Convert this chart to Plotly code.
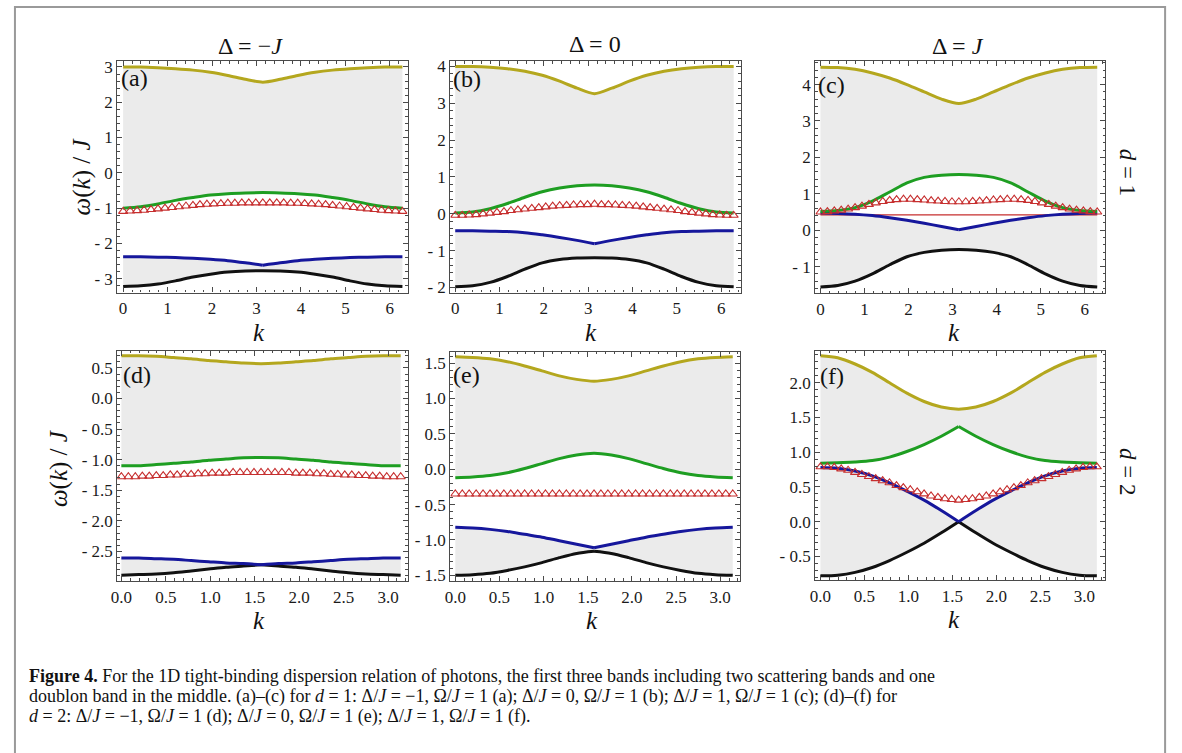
import plotly.graph_objects as go

W, H = 1182, 753

# ---- wave-number grids ----
k_band_d1 = [0.0, 0.393, 0.785, 1.178, 1.571, 1.963, 2.356, 2.749, 3.142,
             3.534, 3.927, 4.320, 4.712, 5.105, 5.498, 5.890, 6.283]
k_band_d2 = [0.0, 0.196, 0.393, 0.589, 0.785, 0.982, 1.178, 1.374, 1.571,
             1.767, 1.963, 2.160, 2.356, 2.553, 2.749, 2.945, 3.142]
k_doublon_d1 = [0.0, 0.157, 0.314, 0.471, 0.628, 0.785, 0.942, 1.100, 1.257, 1.414,
                1.571, 1.728, 1.885, 2.042, 2.199, 2.356, 2.513, 2.670, 2.827, 2.985,
                3.142, 3.299, 3.456, 3.613, 3.770, 3.927, 4.084, 4.241, 4.398, 4.555,
                4.712, 4.869, 5.027, 5.184, 5.341, 5.498, 5.655, 5.812, 5.969, 6.126, 6.283]
k_doublon_d2 = [0.0, 0.079, 0.157, 0.236, 0.314, 0.393, 0.471, 0.550, 0.628, 0.707,
                0.785, 0.864, 0.942, 1.021, 1.100, 1.178, 1.257, 1.335, 1.414, 1.492,
                1.571, 1.649, 1.728, 1.806, 1.885, 1.963, 2.042, 2.121, 2.199, 2.278,
                2.356, 2.435, 2.513, 2.592, 2.670, 2.749, 2.827, 2.906, 2.985, 3.063, 3.142]

# ---- (a) d = 1, Delta = -J ----
a_yellow = [3.00, 3.00, 2.98, 2.95, 2.91, 2.85, 2.76, 2.65, 2.57, 2.65, 2.76, 2.85, 2.91, 2.95, 2.98, 3.00, 3.00]
a_green = [-1.00, -0.96, -0.88, -0.78, -0.70, -0.63, -0.59, -0.57, -0.56, -0.57, -0.59, -0.63, -0.70, -0.78, -0.88, -0.96, -1.00]
a_blue = [-2.38, -2.38, -2.39, -2.40, -2.42, -2.45, -2.49, -2.55, -2.62, -2.55, -2.49, -2.45, -2.42, -2.40, -2.39, -2.38, -2.38]
a_black = [-3.22, -3.20, -3.15, -3.06, -2.95, -2.87, -2.81, -2.78, -2.77, -2.78, -2.81, -2.87, -2.95, -3.06, -3.15, -3.20, -3.22]
a_red = [-1.09, -1.08, -1.07, -1.06, -1.04, -1.02, -1.00, -0.98, -0.96, -0.94, -0.92, -0.90, -0.89, -0.88, -0.87,
         -0.86, -0.86, -0.85, -0.85, -0.85, -0.85, -0.85, -0.85, -0.85, -0.86, -0.86, -0.87, -0.88, -0.89, -0.90,
         -0.92, -0.94, -0.96, -0.98, -1.00, -1.02, -1.04, -1.06, -1.07, -1.08, -1.09]

# ---- (b) d = 1, Delta = 0 ----
b_yellow = [4.00, 4.00, 3.98, 3.94, 3.87, 3.76, 3.60, 3.41, 3.26, 3.41, 3.60, 3.76, 3.87, 3.94, 3.98, 4.00, 4.00]
b_green = [0.02, 0.05, 0.14, 0.28, 0.45, 0.60, 0.70, 0.76, 0.78, 0.76, 0.70, 0.60, 0.45, 0.28, 0.14, 0.05, 0.02]
b_blue = [-0.46, -0.46, -0.47, -0.48, -0.51, -0.57, -0.64, -0.72, -0.81, -0.72, -0.64, -0.57, -0.51, -0.48, -0.47, -0.46, -0.46]
b_black = [-1.98, -1.95, -1.86, -1.70, -1.50, -1.33, -1.24, -1.20, -1.19, -1.20, -1.24, -1.33, -1.50, -1.70, -1.86, -1.95, -1.98]
b_red = [-0.04, -0.04, -0.03, -0.02, 0.00, 0.02, 0.04, 0.06, 0.09, 0.11, 0.13, 0.15, 0.17, 0.19, 0.21,
         0.22, 0.23, 0.24, 0.25, 0.25, 0.26, 0.25, 0.25, 0.24, 0.23, 0.22, 0.21, 0.19, 0.17, 0.15,
         0.13, 0.11, 0.09, 0.06, 0.04, 0.02, 0.00, -0.02, -0.03, -0.04, -0.04]

# ---- (c) d = 1, Delta = J ----
c_yellow = [4.48, 4.47, 4.42, 4.32, 4.18, 4.00, 3.80, 3.60, 3.48, 3.60, 3.80, 4.00, 4.18, 4.32, 4.42, 4.47, 4.48]
c_green = [0.51, 0.54, 0.62, 0.80, 1.05, 1.30, 1.45, 1.51, 1.53, 1.51, 1.45, 1.30, 1.05, 0.80, 0.62, 0.54, 0.51]
c_blue = [0.47, 0.46, 0.44, 0.40, 0.34, 0.27, 0.19, 0.10, 0.01, 0.10, 0.19, 0.27, 0.34, 0.40, 0.44, 0.46, 0.47]
c_black = [-1.56, -1.52, -1.40, -1.20, -0.95, -0.73, -0.61, -0.55, -0.53, -0.55, -0.61, -0.73, -0.95, -1.20, -1.40, -1.52, -1.56]
c_red = [0.50, 0.51, 0.53, 0.55, 0.58, 0.62, 0.66, 0.71, 0.75, 0.79, 0.82, 0.84, 0.85, 0.85, 0.84,
         0.83, 0.81, 0.80, 0.79, 0.78, 0.78, 0.78, 0.79, 0.80, 0.81, 0.83, 0.84, 0.85, 0.85, 0.84,
         0.82, 0.79, 0.75, 0.71, 0.66, 0.62, 0.58, 0.55, 0.53, 0.51, 0.50]
c_red_edge_k = [0.0, 6.283]
c_red_edge = [0.42, 0.42]

# ---- (d) d = 2, Delta = -J ----
d_yellow = [0.70, 0.70, 0.69, 0.67, 0.65, 0.62, 0.60, 0.58, 0.57, 0.58, 0.60, 0.62, 0.65, 0.67, 0.69, 0.70, 0.70]
d_green = [-1.10, -1.10, -1.08, -1.06, -1.04, -1.01, -0.99, -0.97, -0.965, -0.97, -0.99, -1.01, -1.04, -1.06, -1.08, -1.10, -1.10]
d_blue = [-2.61, -2.61, -2.62, -2.63, -2.65, -2.67, -2.69, -2.70, -2.72, -2.70, -2.69, -2.67, -2.65, -2.63, -2.62, -2.61, -2.61]
d_black = [-2.89, -2.88, -2.87, -2.85, -2.82, -2.79, -2.76, -2.74, -2.72, -2.74, -2.76, -2.79, -2.82, -2.85, -2.87, -2.88, -2.89]
d_red = [-1.28, -1.28, -1.28, -1.27, -1.27, -1.26, -1.26, -1.25, -1.25, -1.24, -1.24, -1.23, -1.23, -1.22, -1.22,
         -1.22, -1.21, -1.21, -1.21, -1.21, -1.21, -1.21, -1.21, -1.21, -1.21, -1.22, -1.22, -1.22, -1.23, -1.23,
         -1.24, -1.24, -1.25, -1.25, -1.26, -1.26, -1.27, -1.27, -1.28, -1.28, -1.28]

# ---- (e) d = 2, Delta = 0 ----
e_yellow = [1.59, 1.58, 1.56, 1.52, 1.46, 1.39, 1.32, 1.27, 1.245, 1.27, 1.32, 1.39, 1.46, 1.52, 1.56, 1.58, 1.59]
e_green = [-0.12, -0.11, -0.09, -0.05, 0.01, 0.08, 0.15, 0.20, 0.225, 0.20, 0.15, 0.08, 0.01, -0.05, -0.09, -0.11, -0.12]
e_blue = [-0.82, -0.83, -0.85, -0.88, -0.92, -0.96, -1.01, -1.06, -1.11, -1.06, -1.01, -0.96, -0.92, -0.88, -0.85, -0.83, -0.82]
e_black = [-1.50, -1.49, -1.47, -1.43, -1.38, -1.32, -1.25, -1.19, -1.16, -1.19, -1.25, -1.32, -1.38, -1.43, -1.47, -1.49, -1.50]
e_red = [-0.35] * 41

# ---- (f) d = 2, Delta = J ----
f_yellow = [2.39, 2.36, 2.27, 2.15, 2.00, 1.85, 1.73, 1.65, 1.62, 1.65, 1.73, 1.85, 2.00, 2.15, 2.27, 2.36, 2.39]
f_green = [0.84, 0.85, 0.86, 0.88, 0.93, 1.01, 1.11, 1.23, 1.37, 1.23, 1.11, 1.01, 0.93, 0.88, 0.86, 0.85, 0.84]
f_blue = [0.78, 0.77, 0.73, 0.66, 0.56, 0.44, 0.31, 0.16, 0.00, 0.16, 0.31, 0.44, 0.56, 0.66, 0.73, 0.77, 0.78]
f_black = [-0.78, -0.77, -0.73, -0.66, -0.56, -0.44, -0.31, -0.16, 0.00, -0.16, -0.31, -0.44, -0.56, -0.66, -0.73, -0.77, -0.78]
f_red = [0.79, 0.79, 0.78, 0.76, 0.74, 0.71, 0.68, 0.65, 0.62, 0.59, 0.56, 0.52, 0.49, 0.46, 0.43,
         0.40, 0.37, 0.35, 0.33, 0.32, 0.31, 0.32, 0.33, 0.35, 0.37, 0.40, 0.43, 0.46, 0.49, 0.52,
         0.56, 0.59, 0.62, 0.65, 0.68, 0.71, 0.74, 0.76, 0.78, 0.79, 0.79]

# ---- tick labels ----
x_ticks_d1 = [0, 1, 2, 3, 4, 5, 6]
x_labels_d1 = ["0", "1", "2", "3", "4", "5", "6"]
x_ticks_d2 = [0.0, 0.5, 1.0, 1.5, 2.0, 2.5, 3.0]
x_labels_d2 = ["0.0", "0.5", "1.0", "1.5", "2.0", "2.5", "3.0"]
y_ticks_a = [-3, -2, -1, 0, 1, 2, 3]
y_labels_a = ["- 3", "- 2", "- 1", "0", "1", "2", "3"]
y_ticks_b = [-2, -1, 0, 1, 2, 3, 4]
y_labels_b = ["- 2", "- 1", "0", "1", "2", "3", "4"]
y_ticks_c = [-1, 0, 1, 2, 3, 4]
y_labels_c = ["- 1", "0", "1", "2", "3", "4"]
y_ticks_d = [-2.5, -2.0, -1.5, -1.0, -0.5, 0.0, 0.5]
y_labels_d = ["- 2.5", "- 2.0", "- 1.5", "- 1.0", "- 0.5", "0.0", "0.5"]
y_ticks_e = [-1.5, -1.0, -0.5, 0.0, 0.5, 1.0, 1.5]
y_labels_e = ["- 1.5", "- 1.0", "- 0.5", "0.0", "0.5", "1.0", "1.5"]
y_ticks_f = [-0.5, 0.0, 0.5, 1.0, 1.5, 2.0]
y_labels_f = ["- 0.5", "0.0", "0.5", "1.0", "1.5", "2.0"]

C_YELLOW = "#B4A71E"
C_GREEN = "#1E9E22"
C_BLUE = "#16179C"
C_BLACK = "#111111"
C_RED = "#C62E2E"
C_FILL = "#EBEBEB"
C_FRAME = "#4a4a4a"
SERIF = "Liberation Serif, Times New Roman, serif"


def px(x):
    return x / W


def py(y):
    return 1 - y / H


panels = [
    dict(k=k_band_d1, kd=k_doublon_d1, yellow=a_yellow, green=a_green, blue=a_blue, black=a_black, red=a_red,
         cusp=("blue",), xd=(111, 403), yd=(58, 292), xr=(-0.13, 6.40), yr=(-3.39, 3.16),
         xt=(x_ticks_d1, x_labels_d1, 0.2), yt=(y_ticks_a, y_labels_a, 0.2)),
    dict(k=k_band_d1, kd=k_doublon_d1, yellow=b_yellow, green=b_green, blue=b_blue, black=b_black, red=b_red,
         cusp=("blue",), xd=(446, 738), yd=(58, 292), xr=(-0.11, 6.44), yr=(-2.135, 4.14),
         xt=(x_ticks_d1, x_labels_d1, 0.2), yt=(y_ticks_b, y_labels_b, 0.2)),
    dict(k=k_band_d1, kd=k_doublon_d1, yellow=c_yellow, green=c_green, blue=c_blue, black=c_black, red=c_red,
         cusp=("blue",), xd=(813, 1105), yd=(58, 293), xr=(-0.12, 6.47), yr=(-1.74, 4.64),
         xt=(x_ticks_d1, x_labels_d1, 0.2), yt=(y_ticks_c, y_labels_c, 0.2)),
    dict(k=k_band_d2, kd=k_doublon_d2, yellow=d_yellow, green=d_green, blue=d_blue, black=d_black, red=d_red,
         cusp=("blue", "black"), xd=(111, 403), yd=(351, 584), xr=(-0.045, 3.22), yr=(-2.985, 0.78),
         xt=(x_ticks_d2, x_labels_d2, 0.1), yt=(y_ticks_d, y_labels_d, 0.1)),
    dict(k=k_band_d2, kd=k_doublon_d2, yellow=e_yellow, green=e_green, blue=e_blue, black=e_black, red=e_red,
         cusp=("blue", "black"), xd=(446, 737), yd=(352, 584), xr=(-0.056, 3.22), yr=(-1.58, 1.66),
         xt=(x_ticks_d2, x_labels_d2, 0.1), yt=(y_ticks_e, y_labels_e, 0.1)),
    dict(k=k_band_d2, kd=k_doublon_d2, yellow=f_yellow, green=f_green, blue=f_blue, black=f_black, red=f_red,
         cusp=("blue", "black", "green"), xd=(813, 1105), yd=(351, 583), xr=(-0.06, 3.24), yr=(-0.84, 2.46),
         xt=(x_ticks_d2, x_labels_d2, 0.1), yt=(y_ticks_f, y_labels_f, 0.1)),
]

fig = go.Figure()
layout_axes = {}

for i, p in enumerate(panels, start=1):
    xa = "x" if i == 1 else f"x{i}"
    ya = "y" if i == 1 else f"y{i}"
    k = p["k"]

    # shaded scattering continua: yellow-green and blue-black
    for upper, lower in ((p["yellow"], p["green"]), (p["blue"], p["black"])):
        fig.add_trace(go.Scatter(
            x=list(k) + list(k)[::-1], y=list(upper) + list(lower)[::-1],
            mode="lines", line=dict(width=0), fill="toself", fillcolor=C_FILL,
            xaxis=xa, yaxis=ya, showlegend=False, hoverinfo="skip"))

    if i == 3:
        fig.add_trace(go.Scatter(
            x=c_red_edge_k, y=c_red_edge, mode="lines", line=dict(color=C_RED, width=1.3),
            xaxis=xa, yaxis=ya, showlegend=False, hoverinfo="skip"))

    # band curves (kinked bands drawn as two halves so the cusp stays sharp)
    for name, color in (("black", C_BLACK), ("blue", C_BLUE), ("green", C_GREEN), ("yellow", C_YELLOW)):
        y = p[name]
        m = len(k) // 2
        segs = [(k[:m + 1], y[:m + 1]), (k[m:], y[m:])] if name in p["cusp"] else [(k, y)]
        for kx, yy in segs:
            fig.add_trace(go.Scatter(
                x=kx, y=yy, mode="lines",
                line=dict(color=color, width=3, shape="spline", smoothing=0.8),
                xaxis=xa, yaxis=ya, showlegend=False, hoverinfo="skip"))

    # doublon band
    fig.add_trace(go.Scatter(
        x=p["kd"], y=p["red"], mode="markers",
        marker=dict(symbol="triangle-up-open", size=8, color=C_RED, line=dict(width=1.1, color=C_RED)),
        xaxis=xa, yaxis=ya, showlegend=False, hoverinfo="skip"))

    common = dict(showline=True, linecolor=C_FRAME, linewidth=1.2, mirror="allticks",
                  ticks="inside", ticklen=5, tickwidth=1, tickcolor=C_FRAME,
                  showgrid=False, zeroline=False,
                  tickfont=dict(family=SERIF, size=17, color="#1a1a1a"))
    xt, xl, xm = p["xt"]
    yt, yl, ym = p["yt"]
    layout_axes["xaxis" if i == 1 else f"xaxis{i}"] = dict(
        common, domain=[px(p["xd"][0]), px(p["xd"][1])], range=list(p["xr"]), anchor=ya,
        tickmode="array", tickvals=xt, ticktext=xl,
        minor=dict(ticks="inside", ticklen=2.5, tickwidth=0.8, tickcolor=C_FRAME, tick0=0, dtick=xm, showgrid=False))
    layout_axes["yaxis" if i == 1 else f"yaxis{i}"] = dict(
        common, domain=[py(p["yd"][1]), py(p["yd"][0])], range=list(p["yr"]), anchor=xa,
        tickmode="array", tickvals=yt, ticktext=yl,
        minor=dict(ticks="inside", ticklen=2.5, tickwidth=0.8, tickcolor=C_FRAME, tick0=0, dtick=ym, showgrid=False))

fig.update_layout(**layout_axes)

annotations = []


def text(s, x, y, size, angle=0, anchor="center"):
    annotations.append(dict(text=s, x=px(x), y=py(y), xref="paper", yref="paper",
                            xanchor=anchor, yanchor="middle", showarrow=False, textangle=angle,
                            font=dict(family=SERIF, size=size, color="#111111")))


# column headings
text("Δ = −<i>J</i>", 245, 43, 24)
text("Δ = 0", 591, 40, 24)
text("Δ = <i>J</i>", 957, 43, 24)
# row labels
text("<i>d</i> = 1", 1127, 170, 23, angle=90)
text("<i>d</i> = 2", 1127, 473, 23, angle=90)
# axis titles
text("<i>ω</i>(<i>k</i>) / <i>J</i>", 75, 175, 25, angle=-90)
text("<i>ω</i>(<i>k</i>) / <i>J</i>", 53, 470, 25, angle=-90)
for kx, ky in ((253, 332), (587, 332), (953, 332), (253, 624), (588, 624), (953, 623)):
    text("<i>k</i>", kx, ky, 25)
# panel tags
for tag, tx, ty in (("(a)", 113, 75), ("(b)", 447, 76), ("(c)", 814, 82),
                    ("(d)", 115, 375), ("(e)", 447, 375), ("(f)", 816, 376)):
    text(tag, tx, ty, 24, anchor="left")

# caption
cap1 = ("<b>Figure 4.</b> For the 1D tight-binding dispersion relation of photons, the first three bands "
        "including two scattering bands and one")
cap2 = ("doublon band in the middle. (a)–(c) for <i>d</i> = 1: Δ/<i>J</i> = −1, Ω/<i>J</i> = 1 (a); "
        "Δ/<i>J</i> = 0, Ω/<i>J</i> = 1 (b); Δ/<i>J</i> = 1, Ω/<i>J</i> = 1 (c); (d)–(f) for")
cap3 = ("<i>d</i> = 2: Δ/<i>J</i> = −1, Ω/<i>J</i> = 1 (d); Δ/<i>J</i> = 0, Ω/<i>J</i> = 1 (e); "
        "Δ/<i>J</i> = 1, Ω/<i>J</i> = 1 (f).")
text(cap1, 20, 680, 18, anchor="left")
text(cap2, 20, 701, 18, anchor="left")
text(cap3, 20, 721, 18, anchor="left")

fig.update_layout(
    width=W, height=H, margin=dict(l=0, r=0, t=0, b=0),
    paper_bgcolor="white", plot_bgcolor="white",
    font=dict(family=SERIF, color="#111111"),
    annotations=annotations,
    shapes=[dict(type="rect", xref="paper", yref="paper",
                 x0=px(8), x1=px(1165), y0=py(765), y1=py(3),
                 line=dict(color="#9a9a9a", width=2), fillcolor="rgba(0,0,0,0)")],
)

fig.write_html("out.html")
